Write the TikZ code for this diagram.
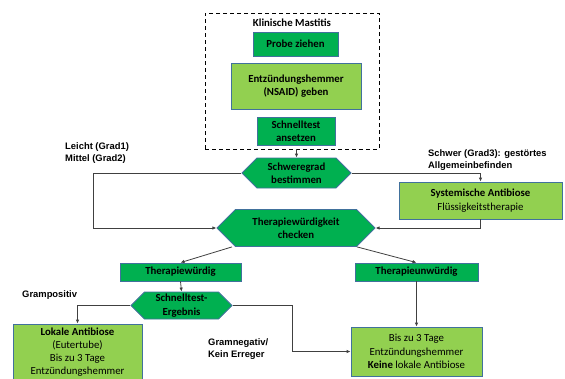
\documentclass[tikz,border=0pt]{standalone}
\usepackage{fontspec}
\setmainfont{Carlito}
\newfontfamily\arialfont{Liberation Sans}
\usetikzlibrary{arrows.meta,shapes.symbols}
\definecolor{dgreen}{HTML}{00B050}
\definecolor{lgreen}{HTML}{92D050}
\definecolor{edgeblue}{HTML}{41719C}

\begin{document}
\begin{tikzpicture}[x=1pt,y=-1pt,
  box/.style={draw=edgeblue, line width=0.8pt, align=center, inner sep=1pt, font=\fontsize{10.8}{13.3}\selectfont},
  dbox/.style={box, fill=dgreen, font=\bfseries\fontsize{10.8}{13.3}\selectfont},
  lbox/.style={box, fill=lgreen},
  hexa/.style={dbox, shape=signal, signal to=east and west, signal pointer angle=90},
  frame/.style={draw, dashed, line width=0.9pt, dash pattern=on 4pt off 3pt},
  lab/.style={font=\arialfont\bfseries\fontsize{9.4}{12}\selectfont, align=left, anchor=west, inner sep=0pt},
  arr/.style={-{Latex[length=4pt, width=3.5pt]}, line width=0.8pt, black!75},
]
  \useasboundingbox (0,0) rectangle (565,378);

  \node[frame, minimum width=174pt, minimum height=136pt] (klin) at (292,81) {};
  \node[font=\bfseries\fontsize{10.8}{13}\selectfont] (titel) at (292,23) {Klinische Mastitis};
  \node[dbox, minimum width=85pt, minimum height=24pt] (probe) at (295.5,44) {Probe ziehen};
  \node[lbox, font=\bfseries\fontsize{10.8}{13.3}\selectfont, minimum width=130pt, minimum height=46pt] (nsaid) at (296,86) {Entzündungshemmer\\(NSAID) geben};
  \node[dbox, minimum width=78pt, minimum height=28pt] (schnell) at (296,131) {Schnelltest\\ansetzen};

  \node[hexa, minimum width=109pt, minimum height=30pt] (schwer) at (296.5,173) {Schweregrad\\bestimmen};
  \node[hexa, minimum width=158pt, minimum height=37pt] (ther) at (296,228) {Therapiewürdigkeit\\checken};
  \node[lbox, minimum width=163pt, minimum height=37pt] (syst) at (480.5,200.5) {\textbf{Systemische Antibiose}\\Flüssigkeitstherapie};

  \node[dbox, minimum width=121pt, minimum height=18pt] (twd) at (180.5,272) {Therapiewürdig};
  \node[dbox, minimum width=123pt, minimum height=18pt] (tuw) at (416.5,272) {Therapieunwürdig};
  \node[hexa, minimum width=101pt, minimum height=27pt] (ergeb) at (181.5,305.5) {Schnelltest-\\Ergebnis};

  \node[lbox, font=\fontsize{10.8}{12.8}\selectfont, minimum width=129pt, minimum height=56pt] (lokal) at (77.5,352) {\textbf{Lokale Antibiose}\\(Eutertube)\\Bis zu 3 Tage\\Entzündungshemmer};
  \node[lbox, minimum width=131pt, minimum height=49pt] (keine) at (416.5,351.5) {Bis zu 3 Tage\\Entzündungshemmer\\\textbf{Keine} lokale Antibiose};

  \node[lab] (leicht) at (65,153) {Leicht (Grad1)\\Mittel (Grad2)};
  \node[lab] (schwerlab) at (428,160.5) {Schwer (Grad3): gestörtes\\Allgemeinbefinden};
  \node[lab] (gpos) at (22,295) {Grampositiv};
  \node[lab] (gneg) at (208,349.5) {Gramnegativ/\\Kein Erreger};

  \coordinate (lbend) at (93,173);
  \coordinate (rbend) at (292,305.5);

  \draw[arr] (schwer.north |- klin.south) -- (schwer.north);
  \draw[arr] (schwer.west) -- (lbend) |- (ther.west);
  \draw[arr] (schwer.east) -| (syst.north);
  \draw[arr] (syst.south) |- (ther.east);
  \draw[arr] ([xshift=-64pt]ther.south) -- (twd.north);
  \draw[arr] ([xshift=61pt]ther.south) -- (tuw.north);
  \draw[arr] (twd.south) -- (ergeb.north);
  \draw[arr] (ergeb.west) -| (lokal.north);
  \draw[arr] (ergeb.east) -- (rbend) |- (keine.west);
  \draw[arr] (tuw.south) -- (keine.north);
\end{tikzpicture}
\end{document}
